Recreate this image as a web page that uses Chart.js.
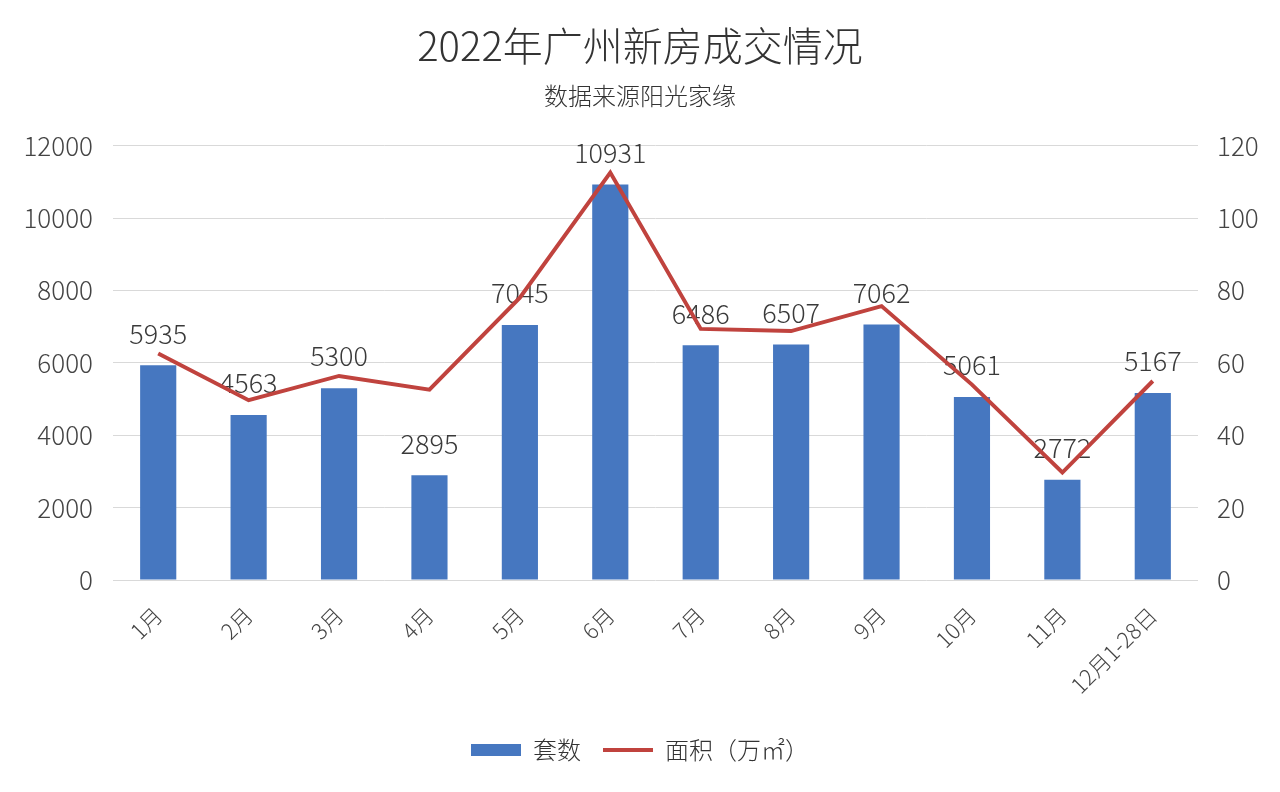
<!DOCTYPE html>
<html>
<head>
<meta charset="utf-8">
<script src="https://cdn.jsdelivr.net/npm/chart.js@4/dist/chart.umd.min.js"></script>
<style>
  html, body { margin: 0; padding: 0; background: #fff; }
  #wrap { width: 1280px; height: 792px; position: relative; }
</style>
</head>
<body>
<div id="wrap"><canvas id="salesChart" width="1280" height="792"></canvas></div>
<script>
// Chart data
const months = ['1月', '2月', '3月', '4月', '5月', '6月', '7月', '8月', '9月', '10月', '11月', '12月1-28日'];
const units = [5935, 4563, 5300, 2895, 7045, 10931, 6486, 6507, 7062, 5061, 2772, 5167];
const area = [62.6, 49.7, 56.4, 52.6, 78, 112.6, 69.4, 68.8, 75.7, 54, 29.7, 55];
const leftTicks = [0, 2000, 4000, 6000, 8000, 10000, 12000];
const rightTicks = [0, 20, 40, 60, 80, 100, 120];

const FONT = "'Noto Sans CJK SC', 'Noto Sans', sans-serif";
const TEXT = '#3a3a3a';

// Draw value labels above the bars
const barLabels = {
    id: 'barLabels',
    afterDatasetDraw(chart, args) {
        if (args.index !== 0) return;
        const ctx = chart.ctx;
        ctx.save();
        ctx.font = '300 27px ' + FONT;
        ctx.fillStyle = TEXT;
        ctx.textAlign = 'center';
        ctx.textBaseline = 'middle';
        args.meta.data.forEach((bar, i) => {
            ctx.fillText(units[i], bar.x, bar.y - 32);
        });
        ctx.restore();
    }
};

Chart.defaults.font.family = FONT;
Chart.defaults.font.weight = 300;
Chart.defaults.color = TEXT;

const ctx = document.getElementById('salesChart').getContext('2d');
const salesChart = new Chart(ctx, {
    type: 'bar',
    data: {
        labels: months,
        datasets: [{
            label: '套数',
            data: units,
            backgroundColor: '#4677c0',
            borderWidth: 0,
            barPercentage: 0.4,
            categoryPercentage: 1,
            yAxisID: 'y',
            order: 1
        }, {
            type: 'line',
            label: '面积（万㎡）',
            data: area,
            borderColor: '#c0433e',
            backgroundColor: '#c0433e',
            borderWidth: 4,
            pointRadius: 0,
            tension: 0,
            yAxisID: 'y1',
            order: 0
        }]
    },
    options: {
        responsive: false,
        animation: false,
        layout: { padding: { left: 0, right: 0, top: 0, bottom: 20 } },
        scales: {
            x: {
                grid: { display: false },
                border: { display: false },
                ticks: {
                    maxRotation: 45,
                    minRotation: 45,
                    padding: 14,
                    font: { size: 22 },
                    color: '#444'
                },
                afterFit(scale) { scale.height = 136; }
            },
            y: {
                position: 'left',
                min: 0,
                max: 12000,
                afterBuildTicks(scale) { scale.ticks = leftTicks.map(v => ({ value: v })); },
                grid: { color: '#d9d9d9', lineWidth: 1, drawTicks: false },
                border: { display: false },
                ticks: { padding: 20, font: { size: 26 }, color: '#444', callback: v => String(v) },
                afterFit(scale) { scale.width = 113; }
            },
            y1: {
                position: 'right',
                min: 0,
                max: 120,
                afterBuildTicks(scale) { scale.ticks = rightTicks.map(v => ({ value: v })); },
                grid: { display: false, drawTicks: false },
                border: { display: false },
                ticks: { padding: 19, font: { size: 26 }, color: '#444', callback: v => String(v) },
                afterFit(scale) { scale.width = 82; }
            }
        },
        plugins: {
            title: {
                display: true,
                text: '2022年广州新房成交情况',
                font: { size: 40, weight: 300 },
                color: '#333',
                padding: { top: 22, bottom: 11 }
            },
            subtitle: {
                display: true,
                text: '数据来源阳光家缘',
                font: { size: 24, weight: 300 },
                color: '#333',
                padding: { top: 0, bottom: 36 }
            },
            legend: {
                position: 'bottom',
                labels: {
                    usePointStyle: true,
                    pointStyleWidth: 50,
                    boxHeight: 12,
                    padding: 22,
                    font: { size: 24 },
                    color: '#333',
                    generateLabels(chart) {
                        const items = Chart.defaults.plugins.legend.labels.generateLabels(chart);
                        items.sort((a, b) => a.datasetIndex - b.datasetIndex);
                        items.forEach(item => {
                            if (item.datasetIndex === 0) {
                                item.pointStyle = 'rect';
                                item.lineWidth = 0;
                            } else {
                                item.pointStyle = 'line';
                                item.lineWidth = 4;
                                item.strokeStyle = '#c0433e';
                            }
                        });
                        return items;
                    }
                }
            },
            tooltip: { enabled: false }
        }
    },
    plugins: [barLabels]
});
</script>
</body>
</html>
